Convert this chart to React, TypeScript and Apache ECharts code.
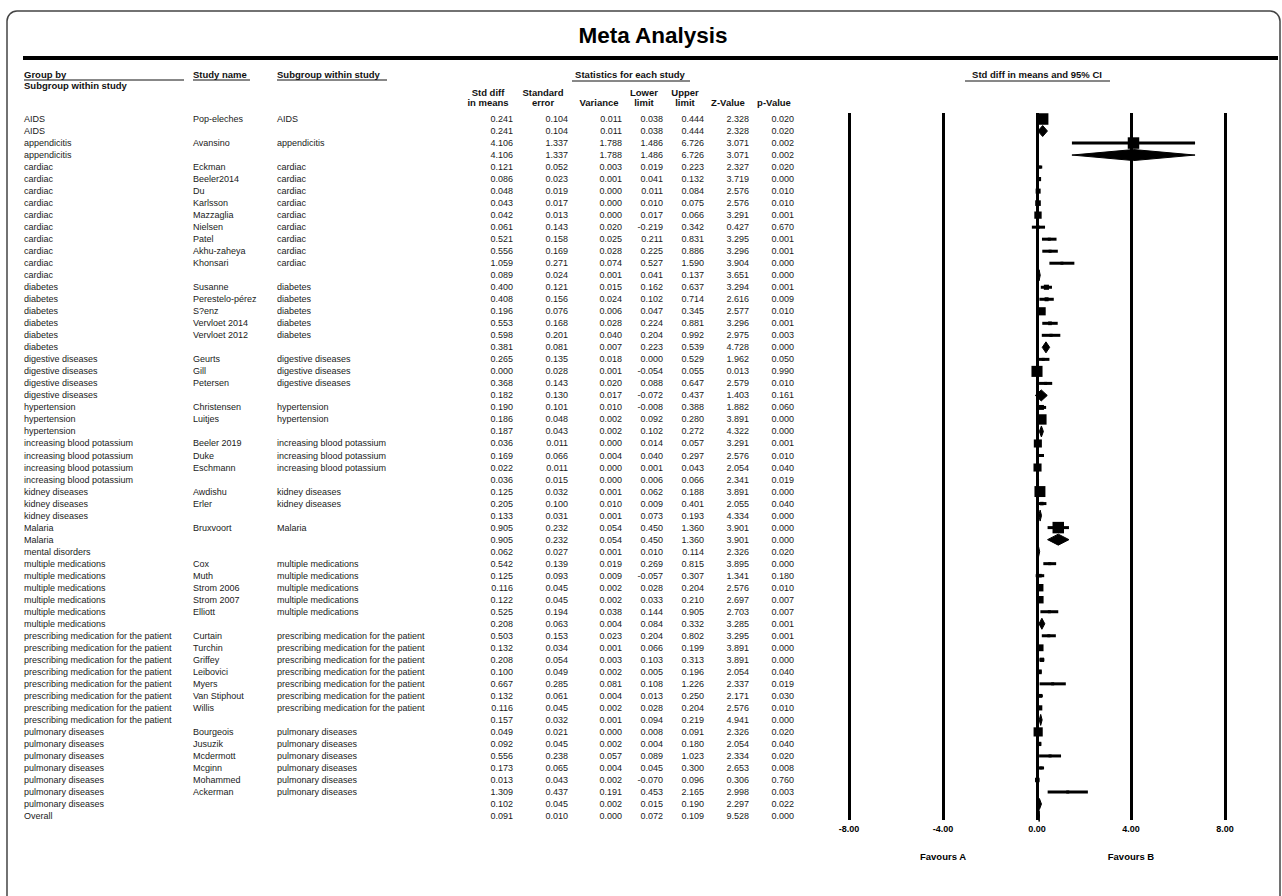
import { useEffect, useRef } from "react";
import * as echarts from "echarts";

// ---- Table data: one entry per row (study rows and subgroup summaries) ----
const groupBy: string[] = [
  "AIDS", "AIDS",
  "appendicitis", "appendicitis",
  "cardiac", "cardiac", "cardiac", "cardiac", "cardiac", "cardiac", "cardiac", "cardiac", "cardiac", "cardiac",
  "diabetes", "diabetes", "diabetes", "diabetes", "diabetes", "diabetes",
  "digestive diseases", "digestive diseases", "digestive diseases", "digestive diseases",
  "hypertension", "hypertension", "hypertension",
  "increasing blood potassium", "increasing blood potassium", "increasing blood potassium", "increasing blood potassium",
  "kidney diseases", "kidney diseases", "kidney diseases",
  "Malaria", "Malaria",
  "mental disorders",
  "multiple medications", "multiple medications", "multiple medications", "multiple medications", "multiple medications", "multiple medications",
  "prescribing medication for the patient", "prescribing medication for the patient", "prescribing medication for the patient",
  "prescribing medication for the patient", "prescribing medication for the patient", "prescribing medication for the patient",
  "prescribing medication for the patient", "prescribing medication for the patient",
  "pulmonary diseases", "pulmonary diseases", "pulmonary diseases", "pulmonary diseases", "pulmonary diseases", "pulmonary diseases", "pulmonary diseases",
  "Overall",
];

// Empty study name marks a subgroup (or overall) summary row
const studyName: string[] = [
  "Pop-eleches", "",
  "Avansino", "",
  "Eckman", "Beeler2014", "Du", "Karlsson", "Mazzaglia", "Nielsen", "Patel", "Akhu-zaheya", "Khonsari", "",
  "Susanne", "Perestelo-pérez", "S?enz", "Vervloet 2014", "Vervloet 2012", "",
  "Geurts", "Gill", "Petersen", "",
  "Christensen", "Luitjes", "",
  "Beeler 2019", "Duke", "Eschmann", "",
  "Awdishu", "Erler", "",
  "Bruxvoort", "",
  "",
  "Cox", "Muth", "Strom 2006", "Strom 2007", "Elliott", "",
  "Curtain", "Turchin", "Griffey", "Leibovici", "Myers", "Van Stiphout", "Willis", "",
  "Bourgeois", "Jusuzik", "Mcdermott", "Mcginn", "Mohammed", "Ackerman", "",
  "",
];

const stdDiff: number[] = [
  0.241, 0.241,
  4.106, 4.106,
  0.121, 0.086, 0.048, 0.043, 0.042, 0.061, 0.521, 0.556, 1.059, 0.089,
  0.400, 0.408, 0.196, 0.553, 0.598, 0.381,
  0.265, 0.000, 0.368, 0.182,
  0.190, 0.186, 0.187,
  0.036, 0.169, 0.022, 0.036,
  0.125, 0.205, 0.133,
  0.905, 0.905,
  0.062,
  0.542, 0.125, 0.116, 0.122, 0.525, 0.208,
  0.503, 0.132, 0.208, 0.100, 0.667, 0.132, 0.116, 0.157,
  0.049, 0.092, 0.556, 0.173, 0.013, 1.309, 0.102,
  0.091,
];

const stdError: number[] = [
  0.104, 0.104,
  1.337, 1.337,
  0.052, 0.023, 0.019, 0.017, 0.013, 0.143, 0.158, 0.169, 0.271, 0.024,
  0.121, 0.156, 0.076, 0.168, 0.201, 0.081,
  0.135, 0.028, 0.143, 0.130,
  0.101, 0.048, 0.043,
  0.011, 0.066, 0.011, 0.015,
  0.032, 0.100, 0.031,
  0.232, 0.232,
  0.027,
  0.139, 0.093, 0.045, 0.045, 0.194, 0.063,
  0.153, 0.034, 0.054, 0.049, 0.285, 0.061, 0.045, 0.032,
  0.021, 0.045, 0.238, 0.065, 0.043, 0.437, 0.045,
  0.010,
];

const variance: number[] = [
  0.011, 0.011,
  1.788, 1.788,
  0.003, 0.001, 0.000, 0.000, 0.000, 0.020, 0.025, 0.028, 0.074, 0.001,
  0.015, 0.024, 0.006, 0.028, 0.040, 0.007,
  0.018, 0.001, 0.020, 0.017,
  0.010, 0.002, 0.002,
  0.000, 0.004, 0.000, 0.000,
  0.001, 0.010, 0.001,
  0.054, 0.054,
  0.001,
  0.019, 0.009, 0.002, 0.002, 0.038, 0.004,
  0.023, 0.001, 0.003, 0.002, 0.081, 0.004, 0.002, 0.001,
  0.000, 0.002, 0.057, 0.004, 0.002, 0.191, 0.002,
  0.000,
];

const lowerLimit: number[] = [
  0.038, 0.038,
  1.486, 1.486,
  0.019, 0.041, 0.011, 0.010, 0.017, -0.219, 0.211, 0.225, 0.527, 0.041,
  0.162, 0.102, 0.047, 0.224, 0.204, 0.223,
  0.000, -0.054, 0.088, -0.072,
  -0.008, 0.092, 0.102,
  0.014, 0.040, 0.001, 0.006,
  0.062, 0.009, 0.073,
  0.450, 0.450,
  0.010,
  0.269, -0.057, 0.028, 0.033, 0.144, 0.084,
  0.204, 0.066, 0.103, 0.005, 0.108, 0.013, 0.028, 0.094,
  0.008, 0.004, 0.089, 0.045, -0.070, 0.453, 0.015,
  0.072,
];

const upperLimit: number[] = [
  0.444, 0.444,
  6.726, 6.726,
  0.223, 0.132, 0.084, 0.075, 0.066, 0.342, 0.831, 0.886, 1.590, 0.137,
  0.637, 0.714, 0.345, 0.881, 0.992, 0.539,
  0.529, 0.055, 0.647, 0.437,
  0.388, 0.280, 0.272,
  0.057, 0.297, 0.043, 0.066,
  0.188, 0.401, 0.193,
  1.360, 1.360,
  0.114,
  0.815, 0.307, 0.204, 0.210, 0.905, 0.332,
  0.802, 0.199, 0.313, 0.196, 1.226, 0.250, 0.204, 0.219,
  0.091, 0.180, 1.023, 0.300, 0.096, 2.165, 0.190,
  0.109,
];

const zValue: number[] = [
  2.328, 2.328,
  3.071, 3.071,
  2.327, 3.719, 2.576, 2.576, 3.291, 0.427, 3.295, 3.296, 3.904, 3.651,
  3.294, 2.616, 2.577, 3.296, 2.975, 4.728,
  1.962, 0.013, 2.579, 1.403,
  1.882, 3.891, 4.322,
  3.291, 2.576, 2.054, 2.341,
  3.891, 2.055, 4.334,
  3.901, 3.901,
  2.326,
  3.895, 1.341, 2.576, 2.697, 2.703, 3.285,
  3.295, 3.891, 3.891, 2.054, 2.337, 2.171, 2.576, 4.941,
  2.326, 2.054, 2.334, 2.653, 0.306, 2.998, 2.297,
  9.528,
];

const pValue: number[] = [
  0.020, 0.020,
  0.002, 0.002,
  0.020, 0.000, 0.010, 0.010, 0.001, 0.670, 0.001, 0.001, 0.000, 0.000,
  0.001, 0.009, 0.010, 0.001, 0.003, 0.000,
  0.050, 0.990, 0.010, 0.161,
  0.060, 0.000, 0.000,
  0.001, 0.010, 0.040, 0.019,
  0.000, 0.040, 0.000,
  0.000, 0.000,
  0.020,
  0.000, 0.180, 0.010, 0.007, 0.007, 0.001,
  0.001, 0.000, 0.000, 0.040, 0.019, 0.030, 0.010, 0.000,
  0.020, 0.040, 0.020, 0.008, 0.760, 0.003, 0.022,
  0.000,
];

const axisTicks: number[] = [-8, -4, 0, 4, 8];
const favourLabels: string[] = ["Favours A", "Favours B"];
const favourAt: number[] = [-4, 4];

// ---- Layout ----
const W = 1282;
const H = 896;
const FONT = "'Liberation Sans', Arial, Helvetica, sans-serif";
const ROW_FONT = `9px ${FONT}`;
const HEAD_FONT = `bold 9.5px ${FONT}`;
const GRID_LEFT = 849;
const GRID_RIGHT = 1225;
const GRID_TOP = 113;
const GRID_BOTTOM = 820;
const ROW_MIN = -0.5;
const ROW_MAX = 58.33;
const numberCols = [513, 568, 622, 663, 704, 749, 794];
const xGroup = 24;
const xStudy = 193;
const xSub = 277;
const TEXT_COLOR = "#1a1a1a";

const isSummary = studyName.map((s) => s === "");

// Square size follows the inverse-variance weight of each study within its group
const squareSize: number[] = (() => {
  const totals: Record<string, number> = {};
  groupBy.forEach((g, i) => {
    if (!isSummary[i]) totals[g] = (totals[g] || 0) + 1 / (stdError[i] * stdError[i]);
  });
  return groupBy.map((g, i) => {
    if (isSummary[i]) return 0;
    const w = 1 / (stdError[i] * stdError[i]) / totals[g];
    return Math.max(3, 11.5 * Math.sqrt(w));
  });
})();

const markData = stdDiff.map((v, i) => [i, v, lowerLimit[i], upperLimit[i], squareSize[i], isSummary[i] ? 1 : 0]);
const tableData = stdDiff.map((_, i) => [i]);

function txt(x: number, y: number, text: string, font: string, align = "left", fill = "#111") {
  return {
    type: "text",
    x,
    y,
    style: {
      text,
      font,
      fill,
      align,
      textAlign: align,
      verticalAlign: "middle",
      textVerticalAlign: "middle",
    },
  };
}

function hline(x1: number, x2: number, y: number, width: number, color = "#111") {
  return {
    type: "line",
    shape: { x1, y1: y, x2, y2: y },
    style: { stroke: color, lineWidth: width },
  };
}

function buildOption() {
  const graphics: any[] = [
    {
      type: "rect",
      shape: { x: 7, y: 11, width: 1273, height: 1000, r: 10 },
      style: { fill: "none", stroke: "#444", lineWidth: 1.5 },
    },
    txt(653, 35, "Meta Analysis", `bold 22.5px ${FONT}`, "center", "#000"),
    hline(23, 1278, 58, 4, "#000"),
    txt(xGroup, 74, "Group by", HEAD_FONT),
    txt(xGroup, 85, "Subgroup within study", HEAD_FONT),
    hline(xGroup, 184, 80, 1),
    txt(xStudy, 74, "Study name", HEAD_FONT),
    hline(xStudy, 250, 80, 1),
    txt(xSub, 74, "Subgroup within study", HEAD_FONT),
    hline(xSub, 387, 80, 1),
    txt(630, 74, "Statistics for each study", HEAD_FONT, "center"),
    hline(572, 690, 81, 1),
    txt(488, 92, "Std diff", HEAD_FONT, "center"),
    txt(488, 102, "in means", HEAD_FONT, "center"),
    txt(543, 92, "Standard", HEAD_FONT, "center"),
    txt(543, 102, "error", HEAD_FONT, "center"),
    txt(599, 102, "Variance", HEAD_FONT, "center"),
    txt(644, 92, "Lower", HEAD_FONT, "center"),
    txt(644, 102, "limit", HEAD_FONT, "center"),
    txt(685, 92, "Upper", HEAD_FONT, "center"),
    txt(685, 102, "limit", HEAD_FONT, "center"),
    txt(728, 102, "Z-Value", HEAD_FONT, "center"),
    txt(774, 102, "p-Value", HEAD_FONT, "center"),
    txt(1037, 74, "Std diff in means and 95% CI", HEAD_FONT, "center"),
    hline(965, 1110, 81, 1),
  ];

  return {
    animation: false,
    backgroundColor: "#fff",
    graphic: graphics,
    grid: {
      left: GRID_LEFT,
      right: W - GRID_RIGHT,
      top: GRID_TOP,
      bottom: H - GRID_BOTTOM,
      containLabel: false,
    },
    xAxis: {
      type: "value",
      min: axisTicks[0],
      max: axisTicks[axisTicks.length - 1],
      interval: 4,
      axisLine: { show: false },
      axisTick: { show: false },
      splitLine: { show: true, showMinLine: true, showMaxLine: true, lineStyle: { color: "#000", width: 3 } },
      axisLabel: {
        margin: 4,
        fontFamily: FONT,
        fontWeight: "bold",
        fontSize: 9,
        color: "#000",
        formatter: (v: number) => v.toFixed(2),
      },
    },
    yAxis: {
      type: "value",
      inverse: true,
      min: ROW_MIN,
      max: ROW_MAX,
      show: false,
      splitLine: { show: false },
    },
    series: [
      {
        // Left-hand table: names and statistics, one line per row
        type: "custom",
        name: "table",
        silent: true,
        clip: false,
        data: tableData,
        encode: { y: 0 },
        renderItem: (_params: any, api: any) => {
          const i = api.value(0);
          const y = api.coord([0, i])[1];
          const vals = [stdDiff[i], stdError[i], variance[i], lowerLimit[i], upperLimit[i], zValue[i], pValue[i]];
          const children: any[] = [txt(xGroup, y, groupBy[i], ROW_FONT, "left", TEXT_COLOR)];
          if (!isSummary[i]) {
            children.push(txt(xStudy, y, studyName[i], ROW_FONT, "left", TEXT_COLOR));
            children.push(txt(xSub, y, groupBy[i], ROW_FONT, "left", TEXT_COLOR));
          }
          vals.forEach((v, k) => {
            children.push(txt(numberCols[k], y, v.toFixed(3), ROW_FONT, "right", TEXT_COLOR));
          });
          return { type: "group", children };
        },
      },
      {
        // Forest plot marks: CI whiskers with weighted squares, diamonds for summaries
        type: "custom",
        name: "forest",
        silent: true,
        clip: false,
        data: markData,
        encode: { x: [1, 2, 3], y: 0 },
        renderItem: (_params: any, api: any) => {
          const i = api.value(0);
          const est = api.value(1);
          const lo = api.value(2);
          const hi = api.value(3);
          const sq = api.value(4);
          const summary = api.value(5) === 1;
          const [xe, y] = api.coord([est, i]);
          const xl = api.coord([lo, i])[0];
          const xh = api.coord([hi, i])[0];
          if (summary) {
            const h = 5.5;
            return {
              type: "polygon",
              shape: { points: [[xl, y], [xe, y - h], [xh, y], [xe, y + h]] },
              style: { fill: "#000", stroke: "#000", lineWidth: 1 },
            };
          }
          return {
            type: "group",
            children: [
              {
                type: "line",
                shape: { x1: xl, y1: y, x2: xh, y2: y },
                style: { stroke: "#000", lineWidth: 3 },
              },
              {
                type: "rect",
                shape: { x: xe - sq / 2, y: y - sq / 2, width: sq, height: sq },
                style: { fill: "#000" },
              },
            ],
          };
        },
      },
      {
        // "Favours" captions under the axis, placed on the axis scale
        type: "custom",
        name: "favours",
        silent: true,
        clip: false,
        data: favourAt.map((v, k) => [v, k]),
        encode: { x: 0 },
        renderItem: (_params: any, api: any) => {
          const x = api.coord([api.value(0), ROW_MAX])[0];
          return txt(x, 856, favourLabels[api.value(1)], HEAD_FONT, "center", "#000");
        },
      },
    ],
  };
}

export default function App() {
  const ref = useRef<HTMLDivElement>(null);
  useEffect(() => {
    document.body.style.margin = "0";
    const chart = echarts.init(ref.current!, null, { renderer: "svg" });
    chart.setOption(buildOption() as any);
    return () => chart.dispose();
  }, []);
  return <div ref={ref} style={{ width: W, height: H, background: "#fff" }} />;
}
